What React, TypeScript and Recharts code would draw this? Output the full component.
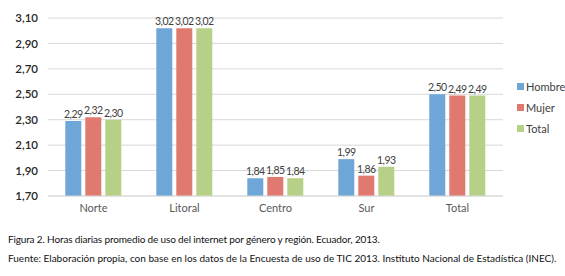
import React from "react";
import { BarChart, Bar, XAxis, YAxis, CartesianGrid, LabelList } from "recharts";

const regions = ["Norte", "Litoral", "Centro", "Sur", "Total"];
const hombre = [2.29, 3.02, 1.84, 1.99, 2.5];
const mujer = [2.32, 3.02, 1.85, 1.86, 2.49];
const total = [2.3, 3.02, 1.84, 1.93, 2.49];
const yTicks = [1.7, 1.9, 2.1, 2.3, 2.5, 2.7, 2.9, 3.1];

const series = [
  { key: "Hombre", color: "#6fa6d8" },
  { key: "Mujer", color: "#e0796f" },
  { key: "Total", color: "#b7d087" },
];

const data = regions.map((name, i) => ({
  name,
  Hombre: hombre[i],
  Mujer: mujer[i],
  Total: total[i],
}));

const FONT = "Lato, 'Open Sans', sans-serif";
const fmt = (v: any) => Number(v).toFixed(2).replace(".", ",");

export default function App() {
  return (
    <div style={{ position: "absolute", left: 0, top: 0, width: 565, height: 276, background: "#fff", fontFamily: FONT }}>
      <BarChart
        width={565}
        height={226}
        data={data}
        margin={{ top: 18, right: 62, left: 0, bottom: 0 }}
        barCategoryGap="19%"
        barGap={4}
      >
        <CartesianGrid vertical={false} stroke="#d9d9d9" />
        <XAxis
          dataKey="name"
          height={30}
          tickLine={false}
          axisLine={{ stroke: "#d9d9d9" }}
          tick={{ fill: "#595959", fontSize: 11, fontFamily: FONT }}
        />
        <YAxis
          width={48}
          domain={[1.7, 3.1]}
          ticks={yTicks}
          tickFormatter={fmt}
          tickLine={false}
          axisLine={false}
          tickMargin={4}
          tick={{ fill: "#262626", fontSize: 11.5, fontWeight: 600, fontFamily: FONT }}
        />
        {series.map((s) => (
          <Bar key={s.key} dataKey={s.key} fill={s.color} isAnimationActive={false}>
            <LabelList
              dataKey={s.key}
              position="top"
              offset={3}
              formatter={fmt}
              style={{ fill: "#404040", fontSize: 10.5, letterSpacing: -0.5, fontFamily: FONT }}
            />
          </Bar>
        ))}
      </BarChart>
      <div style={{ position: "absolute", left: 517, top: 76, fontSize: 11, color: "#404040", lineHeight: "21px" }}>
        {series.map((s) => (
          <div key={s.key} style={{ display: "flex", alignItems: "center" }}>
            <span style={{ display: "inline-block", width: 7, height: 7, background: s.color, marginRight: 2 }} />
            {s.key}
          </div>
        ))}
      </div>
      <div style={{ position: "absolute", left: 8, top: 233, fontSize: 10, letterSpacing: -0.15, color: "#111", whiteSpace: "nowrap" }}>
        Figura 2. Horas diarias promedio de uso del internet por género y región. Ecuador, 2013.
      </div>
      <div style={{ position: "absolute", left: 8, top: 252, fontSize: 10, color: "#111", whiteSpace: "nowrap" }}>
        Fuente: Elaboración propia, con base en los datos de la Encuesta de uso de TIC 2013. Instituto Nacional de Estadística (INEC).
      </div>
    </div>
  );
}
